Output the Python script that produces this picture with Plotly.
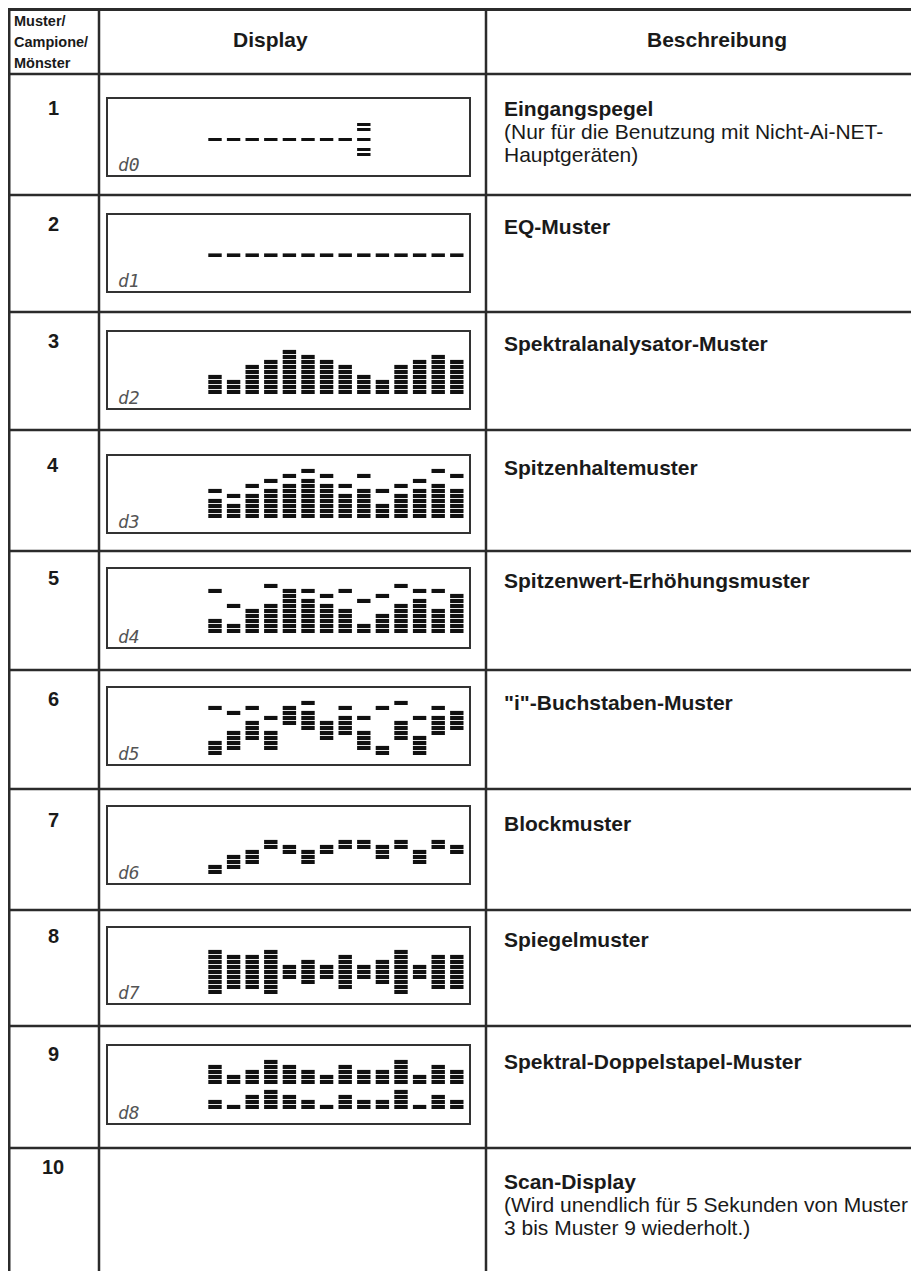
import plotly.graph_objects as go

# page offset: the browser puts the plot 8 px in from the top-left corner
OFF = 8
SCREEN_W, SCREEN_H = 919, 1271
W, H = SCREEN_W - OFF, SCREEN_H - OFF

# ---- table text ----
header_left = ["Muster/", "Campione/", "Mönster"]
header_mid = "Display"
header_right = "Beschreibung"

row_labels = ["1", "2", "3", "4", "5", "6", "7", "8", "9", "10"]
titles = ["Eingangspegel", "EQ-Muster", "Spektralanalysator-Muster", "Spitzenhaltemuster",
          "Spitzenwert-Erhöhungsmuster", "\"i\"-Buchstaben-Muster", "Blockmuster",
          "Spiegelmuster", "Spektral-Doppelstapel-Muster", "Scan-Display"]
notes = [["(Nur für die Benutzung mit Nicht-Ai-NET-", "Hauptgeräten)"],
         [], [], [], [], [], [], [], [],
         ["(Wird unendlich für 5 Sekunden von Muster", "3 bis Muster 9 wiederholt.)"]]
codes = ["d0", "d1", "d2", "d3", "d4", "d5", "d6", "d7", "d8"]

columns = [1, 2, 3, 4, 5, 6, 7, 8, 9, 10, 11, 12, 13, 14]

# ---- display patterns (segment levels, 1 = lowest) ----
d0_segments = [[5], [5], [5], [5], [5], [5], [5], [5], [2, 3, 5, 7, 8], [], [], [], [], []]
d1_segments = [[5], [5], [5], [5], [5], [5], [5], [5], [5], [5], [5], [5], [5], [5]]
d2_heights = [4, 3, 6, 7, 9, 8, 7, 6, 4, 3, 6, 7, 8, 7]
d3_heights = [4, 3, 5, 6, 7, 8, 7, 5, 6, 3, 5, 6, 7, 6]
d3_peaks = [6, 5, 7, 8, 9, 10, 9, 7, 9, 6, 7, 8, 10, 9]
d4_heights = [3, 2, 5, 6, 9, 7, 6, 5, 2, 4, 6, 7, 5, 8]
d4_peaks = [9, 6, 0, 10, 0, 9, 8, 9, 7, 8, 10, 9, 9, 0]
d5_bottom = [0, 1, 3, 1, 6, 5, 3, 4, 1, 0, 3, 0, 4, 5]
d5_top = [2, 4, 6, 4, 9, 8, 6, 7, 4, 1, 6, 3, 7, 8]
d5_peaks = [9, 8, 9, 7, 0, 10, 0, 9, 7, 9, 10, 7, 9, 0]
d6_bottom = [0, 1, 2, 5, 4, 2, 4, 5, 5, 3, 5, 2, 5, 4]
d6_top = [1, 3, 4, 6, 5, 4, 5, 6, 6, 5, 6, 4, 6, 5]
d7_half = [4, 3, 3, 4, 1, 2, 1, 3, 1, 2, 4, 1, 3, 3]
d8_upper = [4, 2, 3, 5, 4, 3, 2, 4, 3, 3, 5, 2, 4, 3]
d8_lower = [2, 1, 3, 4, 3, 2, 1, 3, 2, 2, 4, 1, 3, 2]


def from_heights(heights, peaks=None):
    out = []
    for i, h in enumerate(heights):
        segs = list(range(1, h + 1))
        if peaks and peaks[i]:
            segs.append(peaks[i])
        out.append(segs)
    return out


def from_blocks(lo, hi, peaks=None):
    out = []
    for i in range(len(lo)):
        segs = list(range(lo[i], hi[i] + 1))
        if peaks and peaks[i]:
            segs.append(peaks[i])
        out.append(segs)
    return out


mirror = [list(range(4 - h, 4 + h + 1)) for h in d7_half]
double = [list(range(1, lo + 1)) + list(range(6, 6 + up)) for up, lo in zip(d8_upper, d8_lower)]

patterns = [
    d0_segments,
    d1_segments,
    from_heights(d2_heights),
    from_heights(d3_heights, d3_peaks),
    from_heights(d4_heights, d4_peaks),
    from_blocks(d5_bottom, d5_top, d5_peaks),
    from_blocks(d6_bottom, d6_top),
    mirror,
    double,
]
seg_heights = [0.6, 0.72, 0.82, 0.82, 0.82, 0.82, 0.82, 0.82, 0.82]

# ---- geometry (screen pixels) ----
row_lines = [74, 195, 312, 430, 551, 670, 789, 910, 1026, 1148]
boxes = [(99, 175), (215, 291), (332, 408), (456, 532), (569, 647),
         (688, 764), (807, 883), (928, 1003), (1046, 1123)]
box_x0, box_x1 = 108, 469
col1_x, col_pitch = 215, 18.6
label_y = [108, 224, 341, 465, 578, 699, 820, 936, 1054, 1167]
title_y = [108, 226, 343, 467, 580, 702, 823, 939, 1061, 1181]

LINE = "#2b2b2b"
FONT = "Liberation Sans, Arial, sans-serif"


def fx(px):
    return (px - OFF) / W


def fy(py):
    return 1 - (py - OFF) / H


fig = go.Figure()
# pixel frame (screen coordinates) for the table
fig.add_trace(go.Scatter(x=[OFF, SCREEN_W], y=[OFF, SCREEN_H], mode="markers",
                         marker=dict(opacity=0), hoverinfo="skip", showlegend=False,
                         xaxis="x", yaxis="y"))

layout_axes = {}
for i, segs in enumerate(patterns):
    n = i + 2
    top, bot = boxes[i]
    xs, bases = [], []
    for c, levels in zip(columns, segs):
        for lv in levels:
            xs.append(c)
            bases.append(lv - 1)
    fig.add_trace(go.Bar(x=xs, y=[seg_heights[i]] * len(xs), base=bases, width=0.72,
                         marker=dict(color="#111111", line=dict(width=0)),
                         showlegend=False, hoverinfo="skip",
                         xaxis=f"x{n}", yaxis=f"y{n}"))
    x_lo = 1 + (box_x0 - col1_x) / col_pitch
    x_hi = 1 + (box_x1 - col1_x) / col_pitch
    axis_style = dict(showgrid=False, zeroline=False, showticklabels=False, ticks="",
                      showline=True, mirror=True, linecolor="#333333", linewidth=1.5,
                      fixedrange=True)
    layout_axes[f"xaxis{n}"] = dict(domain=[fx(box_x0), fx(box_x1)], range=[x_lo, x_hi],
                                    anchor=f"y{n}", **axis_style)
    layout_axes[f"yaxis{n}"] = dict(domain=[fy(bot), fy(top)],
                                    range=[-14 / 5, (bot - top - 14) / 5],
                                    anchor=f"x{n}", **axis_style)

shapes = []


def hline(y, x0, x1, w):
    shapes.append(dict(type="line", xref="x", yref="y", x0=x0, x1=x1, y0=y, y1=y,
                       line=dict(color=LINE, width=w)))


def vline(x, y0, y1, w):
    shapes.append(dict(type="line", xref="x", yref="y", x0=x, x1=x, y0=y0, y1=y1,
                       line=dict(color=LINE, width=w)))


hline(9.5, 8, SCREEN_W, 3)
vline(9, 8, SCREEN_H, 3)
vline(99, 9, SCREEN_H, 2.5)
vline(486, 9, SCREEN_H, 2.5)
for y in row_lines:
    hline(y, 9, SCREEN_W, 2.5)

ann = []


def text(x, y, s, size, bold=False, anchor="left", family=FONT, color="#1a1a1a"):
    ann.append(dict(x=x, y=y, xref="x", yref="y", text=f"<b>{s}</b>" if bold else s,
                    showarrow=False, xanchor=anchor, yanchor="middle",
                    font=dict(family=family, size=size, color=color)))


for k, s in enumerate(header_left):
    text(12, 21 + 21 * k, s, 14.5, bold=True)
text(270, 39, header_mid, 21, bold=True, anchor="center")
text(717, 39, header_right, 21, bold=True, anchor="center")

for k in range(10):
    text(53, label_y[k], row_labels[k], 20, bold=True, anchor="center")
    text(502, title_y[k], titles[k], 21, bold=True)
    for j, line in enumerate(notes[k]):
        text(502, title_y[k] + 23 * (j + 1), line, 21)

for i, code in enumerate(codes):
    top, bot = boxes[i]
    text(116, bot - 11, f"<i>{code}</i>", 18, family="DejaVu Sans Mono", color="#555555")

fig.update_layout(
    width=W, height=H, margin=dict(l=0, r=0, t=0, b=0),
    paper_bgcolor="white", plot_bgcolor="rgba(0,0,0,0)",
    barmode="overlay", showlegend=False,
    xaxis=dict(domain=[0, 1], range=[OFF, SCREEN_W], visible=False, fixedrange=True),
    yaxis=dict(domain=[0, 1], range=[SCREEN_H, OFF], visible=False, fixedrange=True),
    shapes=shapes, annotations=ann,
    **layout_axes,
)

fig.write_html("out.html")
